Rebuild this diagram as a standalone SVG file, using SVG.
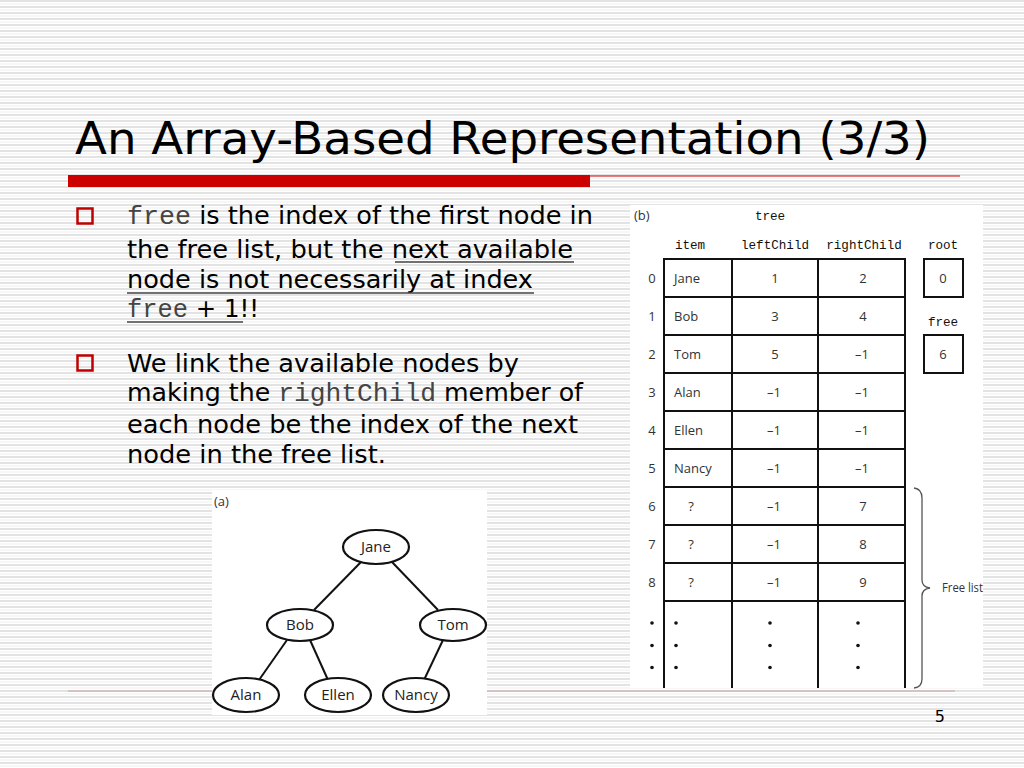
<svg xmlns="http://www.w3.org/2000/svg" width="1024" height="768" viewBox="0 0 1024 768">
<style>
.body{font-family:"DejaVu Sans","Verdana",sans-serif;font-size:24px;fill:#000}
.mono{font-family:"Liberation Mono","Courier New",monospace;font-size:25px;fill:#444}
.ul{stroke:#444;stroke-width:1.5}
.bul{fill:none;stroke:#c00000;stroke-width:2.5}
.tbl{fill:none;stroke:#111;stroke-width:2}
.hdr{font-family:"Liberation Mono","Courier New",monospace;font-size:12.6px;fill:#111;text-anchor:middle}
.cell{font-family:"Open Sans","DejaVu Sans",sans-serif;font-size:13px;fill:#333}
.c{text-anchor:middle}
.node ellipse{fill:#fff;stroke:#111;stroke-width:2.2}
.node text{font-family:"Open Sans","DejaVu Sans",sans-serif;font-size:15px;fill:#222;text-anchor:middle}
.edge{stroke:#111;stroke-width:2}
</style>
<defs>
<pattern id="stripes" x="0" y="0" width="8" height="6" patternUnits="userSpaceOnUse">
<rect width="8" height="6" fill="#ffffff"/>
<rect y="0" width="8" height="2" fill="#e3e3e3"/>
<rect y="3.5" width="8" height="1" fill="#efefef"/>
</pattern>
</defs>
<rect width="1024" height="768" fill="url(#stripes)"/>

<text x="75" y="154" font-family="DejaVu Sans, Verdana, sans-serif" font-size="44" fill="#000" textLength="855" lengthAdjust="spacingAndGlyphs">An Array-Based Representation (3/3)</text>
<rect x="68" y="175" width="522" height="12" fill="#cc0000"/>
<line x1="590" y1="176" x2="960" y2="176" stroke="#cc0000" stroke-width="1"/>

<g id="bullet1">
<rect class="bul" x="77.5" y="208.5" width="15" height="15"/>
<text class="body" x="127" y="224" textLength="466" lengthAdjust="spacingAndGlyphs"><tspan class="mono">free</tspan> is the index of the first node in</text>
<text class="body" x="127" y="258" textLength="446" lengthAdjust="spacingAndGlyphs">the free list, but the next available</text>
<text class="body" x="127" y="288" textLength="406" lengthAdjust="spacingAndGlyphs">node is not necessarily at index</text>
<text class="body" x="127" y="317" textLength="132" lengthAdjust="spacingAndGlyphs"><tspan class="mono">free</tspan> + 1!!</text>
<line class="ul" x1="395" y1="262" x2="574" y2="262"/>
<line class="ul" x1="127" y1="293" x2="534" y2="293"/>
<line class="ul" x1="127" y1="322" x2="243" y2="322"/>
</g>

<g id="bullet2">
<rect class="bul" x="77.5" y="355.5" width="15" height="15"/>
<text class="body" x="127" y="372" textLength="392" lengthAdjust="spacingAndGlyphs">We link the available nodes by</text>
<text class="body" x="127" y="401" textLength="456" lengthAdjust="spacingAndGlyphs">making the <tspan class="mono">rightChild</tspan> member of</text>
<text class="body" x="127" y="433" textLength="451" lengthAdjust="spacingAndGlyphs">each node be the index of the next</text>
<text class="body" x="127" y="463" textLength="259" lengthAdjust="spacingAndGlyphs">node in the free list.</text>
</g>

<line x1="68" y1="691" x2="955" y2="691" stroke="#c8a4a4" stroke-width="1"/>

<g id="array-panel">
<rect x="630" y="205" width="353" height="483" fill="#fff"/>
<text class="cell" x="634" y="220">(b)</text>
<text class="hdr" x="770" y="220">tree</text>
<text class="hdr" x="690" y="249">item</text>
<text class="hdr" x="775" y="249">leftChild</text>
<text class="hdr" x="864" y="249">rightChild</text>
<text class="hdr" x="943" y="249">root</text>
<text class="hdr" x="943" y="326">free</text>
<g class="tbl">
<line x1="664" y1="259" x2="664" y2="688"/>
<line x1="732" y1="259" x2="732" y2="688"/>
<line x1="818" y1="259" x2="818" y2="688"/>
<line x1="905" y1="259" x2="905" y2="688"/>
<line x1="663" y1="259" x2="906" y2="259"/>
<line x1="663" y1="297" x2="906" y2="297"/>
<line x1="663" y1="335" x2="906" y2="335"/>
<line x1="663" y1="373" x2="906" y2="373"/>
<line x1="663" y1="411" x2="906" y2="411"/>
<line x1="663" y1="449" x2="906" y2="449"/>
<line x1="663" y1="487" x2="906" y2="487"/>
<line x1="663" y1="525" x2="906" y2="525"/>
<line x1="663" y1="563" x2="906" y2="563"/>
<line x1="663" y1="601" x2="906" y2="601"/>
<rect x="924" y="259" width="39" height="38"/>
<rect x="924" y="335" width="39" height="38"/>
</g>
<g class="cell">
<text class="c" x="652" y="283">0</text><text x="674" y="283">Jane</text><text class="c" x="775" y="283">1</text><text class="c" x="863" y="283">2</text>
<text class="c" x="652" y="321">1</text><text x="674" y="321">Bob</text><text class="c" x="775" y="321">3</text><text class="c" x="863" y="321">4</text>
<text class="c" x="652" y="359">2</text><text x="674" y="359">Tom</text><text class="c" x="775" y="359">5</text><text class="c" x="862" y="359">–1</text>
<text class="c" x="652" y="397">3</text><text x="674" y="397">Alan</text><text class="c" x="774" y="397">–1</text><text class="c" x="862" y="397">–1</text>
<text class="c" x="652" y="435">4</text><text x="674" y="435">Ellen</text><text class="c" x="774" y="435">–1</text><text class="c" x="862" y="435">–1</text>
<text class="c" x="652" y="473">5</text><text x="674" y="473">Nancy</text><text class="c" x="774" y="473">–1</text><text class="c" x="862" y="473">–1</text>
<text class="c" x="652" y="511">6</text><text class="c" x="691" y="511">?</text><text class="c" x="774" y="511">–1</text><text class="c" x="863" y="511">7</text>
<text class="c" x="652" y="549">7</text><text class="c" x="691" y="549">?</text><text class="c" x="774" y="549">–1</text><text class="c" x="863" y="549">8</text>
<text class="c" x="652" y="587">8</text><text class="c" x="691" y="587">?</text><text class="c" x="774" y="587">–1</text><text class="c" x="863" y="587">9</text>
<text class="c" x="943" y="283">0</text>
<text class="c" x="943" y="359">6</text>
<text x="942" y="592" textLength="41" lengthAdjust="spacingAndGlyphs">Free list</text>
</g>
<g fill="#111">
<circle cx="652" cy="623" r="1.8"/><circle cx="652" cy="645.5" r="1.8"/><circle cx="652" cy="667.5" r="1.8"/>
<circle cx="676" cy="623" r="1.8"/><circle cx="676" cy="645.5" r="1.8"/><circle cx="676" cy="667.5" r="1.8"/>
<circle cx="770" cy="623" r="1.8"/><circle cx="770" cy="645.5" r="1.8"/><circle cx="770" cy="667.5" r="1.8"/>
<circle cx="858" cy="623" r="1.8"/><circle cx="858" cy="645.5" r="1.8"/><circle cx="858" cy="667.5" r="1.8"/>
</g>
<path d="M914 488 Q922 489 922 498 L922 580 Q922 587 930 588 Q922 589 922 596 L922 679 Q922 687 914 688" fill="none" stroke="#555" stroke-width="1.3"/>
</g>

<g id="tree-panel">
<rect x="212" y="490" width="275" height="225" fill="#fff"/>
<text class="cell" x="214" y="506" font-size="14">(a)</text>
</g>

<g id="connectors">
<line class="edge" x1="361" y1="562" x2="314" y2="610"/>
<line class="edge" x1="392" y1="562" x2="438" y2="610"/>
<line class="edge" x1="287" y1="640" x2="259" y2="680"/>
<line class="edge" x1="310" y1="640" x2="328" y2="680"/>
<line class="edge" x1="443" y1="640" x2="424" y2="680"/>
</g>

<g id="node-jane" class="node"><ellipse cx="376" cy="547" rx="33" ry="17"/><text x="376" y="552">Jane</text></g>
<g id="node-bob" class="node"><ellipse cx="300" cy="625" rx="33" ry="16"/><text x="300" y="630">Bob</text></g>
<g id="node-tom" class="node"><ellipse cx="453" cy="625" rx="33" ry="16"/><text x="453" y="630">Tom</text></g>
<g id="node-alan" class="node"><ellipse cx="246" cy="695" rx="33" ry="17"/><text x="246" y="700">Alan</text></g>
<g id="node-ellen" class="node"><ellipse cx="338" cy="695" rx="33" ry="17"/><text x="338" y="700">Ellen</text></g>
<g id="node-nancy" class="node"><ellipse cx="416" cy="695" rx="33" ry="17"/><text x="416" y="700">Nancy</text></g>

<text x="945" y="722" font-family="DejaVu Sans, Verdana, sans-serif" font-size="16" fill="#000" text-anchor="end">5</text>
</svg>
